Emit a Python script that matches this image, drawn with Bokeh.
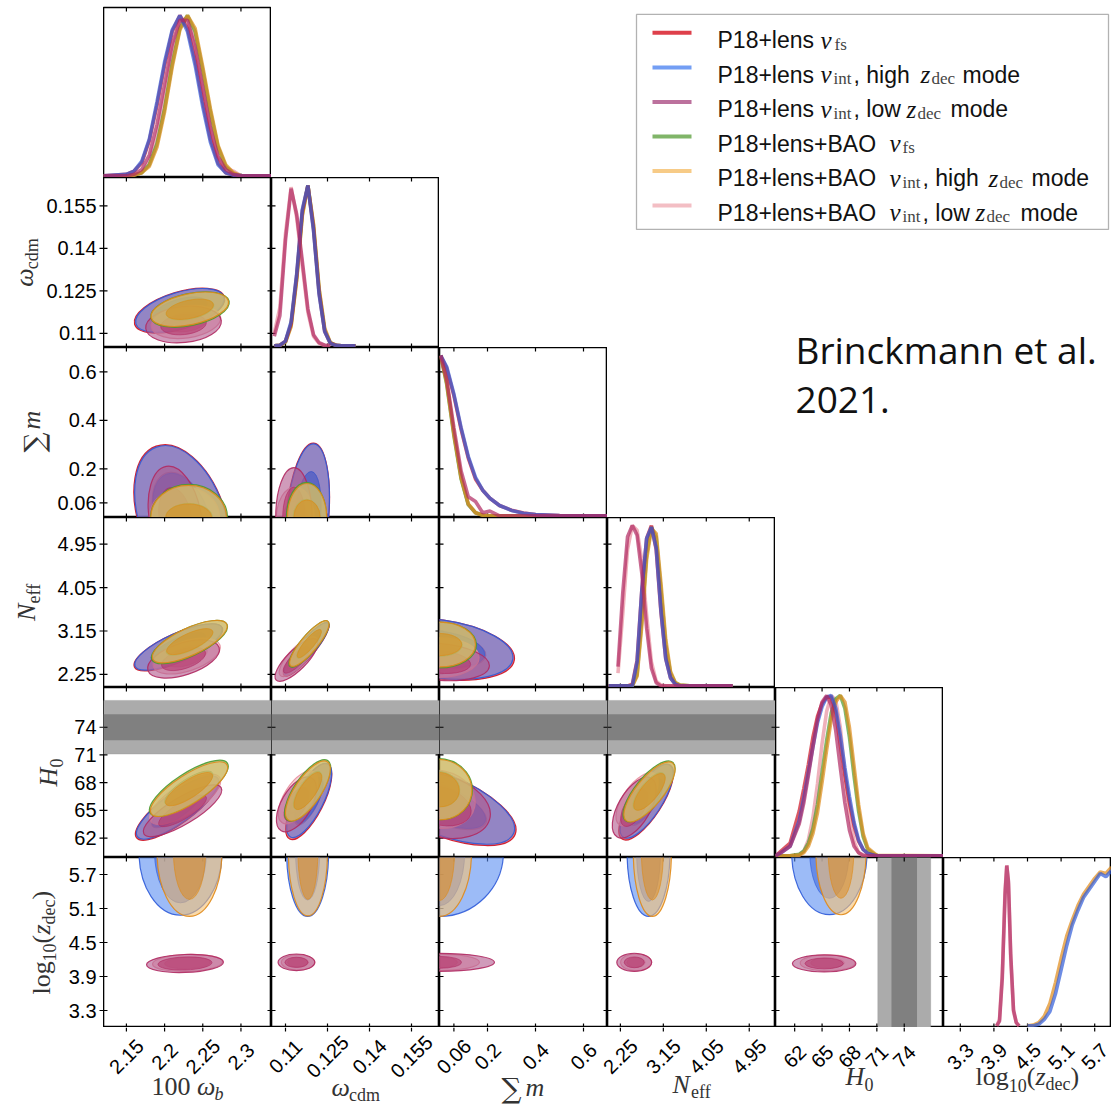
import numpy as np
from bokeh.plotting import figure
from bokeh.models import Range1d, BoxAnnotation, Label, GridBox
from bokeh.core.properties import value
from bokeh.embed import file_html
from bokeh.resources import INLINE

# ----------------------------------------------------------------- data
SERIES = ["P18+lens \u03bdfs", "P18+lens \u03bdint, high zdec mode", "P18+lens \u03bdint, low zdec mode",
          "P18+lens+BAO \u03bdfs", "P18+lens+BAO \u03bdint, high zdec mode", "P18+lens+BAO \u03bdint, low zdec mode"]
COLORS = ["#d81e2c", "#5a8df2", "#b0588c", "#6aa84f", "#f6c272", "#f1b3ba"]
LINE_COLORS = ["#cc1122", "#2f5bd8", "#b02a62", "#4c9a30", "#e08a18", "#e8909e"]

PARAMS = ["wb", "wcdm", "sm", "neff", "h0", "z"]
RANGES = {"wb": (2.12, 2.34), "wcdm": (0.105, 0.165), "sm": (0.0, 0.70),
          "neff": (1.98, 5.50), "h0": (59.9, 78.3), "z": (3.0, 6.0)}
TICKS = {"wb": [2.15, 2.2, 2.25, 2.3], "wcdm": [0.11, 0.125, 0.14, 0.155],
         "sm": [0.06, 0.2, 0.4, 0.6], "neff": [2.25, 3.15, 4.05, 4.95],
         "h0": [62, 65, 68, 71, 74], "z": [3.3, 3.9, 4.5, 5.1, 5.7]}

# SH0ES H0 bands (1 sigma, 2 sigma)
H0_1SIG = [72.6, 75.4]
H0_2SIG = [71.1, 76.9]

# 1D marginalised posteriors (normalised to peak), one row per series
wb_grid = [2.12, 2.15, 2.16, 2.17, 2.18, 2.19, 2.20, 2.21, 2.22, 2.23, 2.24, 2.25, 2.26, 2.27, 2.28, 2.29, 2.30, 2.34]
wb_pdf = [
    [0, 0.01, 0.03, 0.08, 0.22, 0.44, 0.69, 0.90, 1.00, 0.92, 0.72, 0.46, 0.23, 0.08, 0.02, 0.005, 0, 0],
    [0, 0.01, 0.03, 0.09, 0.23, 0.46, 0.71, 0.91, 1.00, 0.90, 0.69, 0.43, 0.21, 0.07, 0.02, 0.005, 0, 0],
    [0, 0, 0.01, 0.04, 0.13, 0.32, 0.57, 0.82, 0.97, 0.97, 0.80, 0.55, 0.30, 0.12, 0.04, 0.01, 0, 0],
    [0, 0, 0.005, 0.02, 0.07, 0.20, 0.42, 0.70, 0.92, 1.00, 0.90, 0.66, 0.40, 0.18, 0.06, 0.015, 0, 0],
    [0, 0, 0.005, 0.02, 0.06, 0.18, 0.40, 0.68, 0.91, 1.00, 0.92, 0.68, 0.42, 0.19, 0.07, 0.02, 0, 0],
    [0, 0, 0.005, 0.02, 0.09, 0.25, 0.50, 0.78, 0.96, 0.99, 0.84, 0.58, 0.31, 0.12, 0.05, 0.03, 0, 0],
]
wcdm_grid = [0.106, 0.108, 0.110, 0.112, 0.114, 0.116, 0.118, 0.120, 0.122, 0.124, 0.126, 0.128, 0.130, 0.135]
wcdm_pdf = [
    [0, 0.004, 0.03, 0.14, 0.44, 0.84, 1.00, 0.73, 0.33, 0.09, 0.017, 0.003, 0, 0],
    [0, 0.004, 0.03, 0.15, 0.45, 0.85, 1.00, 0.72, 0.32, 0.09, 0.016, 0.003, 0, 0],
    [0.06, 0.19, 0.66, 0.98, 0.82, 0.53, 0.23, 0.07, 0.02, 0.004, 0, None, None, None],
    [0, 0.003, 0.025, 0.13, 0.42, 0.82, 1.00, 0.75, 0.35, 0.10, 0.02, 0.004, 0, 0],
    [0, 0.003, 0.024, 0.12, 0.41, 0.81, 1.00, 0.76, 0.36, 0.11, 0.02, 0.004, 0, 0],
    [0.08, 0.24, 0.70, 0.99, 0.80, 0.50, 0.21, 0.06, 0.015, 0.003, 0, None, None, None],
]
sm_grid = [0.005, 0.03, 0.06, 0.09, 0.12, 0.15, 0.18, 0.21, 0.25, 0.30, 0.35, 0.40, 0.50, 0.70]
sm_pdf = [
    [1.0, 0.92, 0.75, 0.54, 0.36, 0.23, 0.16, 0.11, 0.065, 0.035, 0.018, 0.008, 0.002, 0],
    [1.0, 0.93, 0.76, 0.55, 0.37, 0.24, 0.16, 0.11, 0.065, 0.034, 0.017, 0.008, 0.002, 0],
    [1.0, 0.85, 0.55, 0.28, 0.12, 0.09, 0.02, 0.03, 0.0, 0, 0, 0, 0, 0],
    [1.0, 0.82, 0.50, 0.23, 0.07, 0.02, 0.004, 0, 0, 0, 0, 0, 0, 0],
    [1.0, 0.83, 0.51, 0.24, 0.075, 0.02, 0.004, 0, 0, 0, 0, 0, 0, 0],
    [1.0, 0.84, 0.52, 0.24, 0.07, 0.02, 0.005, 0, 0, 0, 0, 0, 0, 0],
]
neff_grid = [2.0, 2.15, 2.2, 2.3, 2.4, 2.5, 2.6, 2.7, 2.8, 2.9, 3.0, 3.1, 3.2, 3.3, 3.4, 3.5, 3.7, 4.6]
neff_pdf = [
    [0, 0, 0, 0, 0, 0.01, 0.16, 0.60, 0.92, 1.00, 0.85, 0.46, 0.17, 0.05, 0.01, 0, 0, 0],
    [0, 0, 0, 0, 0, 0.0, 0.15, 0.60, 0.92, 0.99, 0.86, 0.47, 0.17, 0.05, 0.01, 0, 0, 0],
    [None, None, 0.12, 0.58, 0.93, 1.00, 0.94, 0.70, 0.36, 0.11, 0.02, 0.0, 0, 0, 0, 0, 0, 0],
    [0, 0, 0, 0, 0, 0.0, 0.07, 0.42, 0.82, 0.99, 0.93, 0.60, 0.26, 0.08, 0.02, 0.005, 0, 0],
    [0, 0, 0, 0, 0, 0.0, 0.06, 0.38, 0.79, 0.98, 0.95, 0.64, 0.29, 0.09, 0.02, 0.005, 0, 0],
    [None, None, 0.08, 0.45, 0.85, 1.00, 0.97, 0.78, 0.44, 0.15, 0.03, 0.005, 0, 0, 0, 0, 0, 0],
]
h0_grid = [59.9, 60.5, 61.5, 62.5, 63.0, 63.5, 64.0, 64.5, 65.0, 65.5, 66.0, 66.5, 67.0, 67.5, 68.0, 68.5, 69.0, 69.5, 70.0, 71.0, 78.3]
h0_pdf = [
    [0, 0.03, 0.08, 0.28, 0.42, 0.57, 0.74, 0.87, 0.95, 0.99, 0.99, 0.89, 0.69, 0.50, 0.33, 0.19, 0.09, 0.04, 0.015, 0, 0],
    [0, 0.02, 0.06, 0.22, 0.36, 0.52, 0.68, 0.83, 0.93, 0.99, 1.00, 0.92, 0.75, 0.55, 0.37, 0.21, 0.10, 0.04, 0.015, 0, 0],
    [0, 0.02, 0.06, 0.20, 0.33, 0.50, 0.68, 0.85, 0.96, 1.00, 0.94, 0.78, 0.55, 0.33, 0.16, 0.06, 0.02, 0.005, 0, 0, 0],
    [0, 0, 0, 0.01, 0.03, 0.08, 0.17, 0.32, 0.52, 0.72, 0.89, 0.98, 1.00, 0.92, 0.74, 0.50, 0.28, 0.12, 0.04, 0, 0],
    [0, 0, 0, 0.005, 0.02, 0.06, 0.14, 0.27, 0.46, 0.66, 0.85, 0.96, 1.00, 0.96, 0.80, 0.56, 0.32, 0.14, 0.05, 0.003, 0],
    [0, 0, 0, 0.005, 0.03, 0.10, 0.24, 0.45, 0.70, 0.90, 1.00, 0.97, 0.80, 0.52, 0.26, 0.09, 0.02, 0, 0, 0, 0],
]
z_grid = [3.0, 3.9, 3.95, 4.0, 4.05, 4.1, 4.13, 4.16, 4.2, 4.25, 4.3, 4.35, 4.5, 4.6,
          4.7, 4.8, 4.9, 5.0, 5.1, 5.2, 5.3, 5.4, 5.5, 5.6, 5.7, 5.8, 5.9, 6.0]
z_pdf = [
    None,
    [None, None, None, None, None, None, None, None, None, None, None, None, 0, 0,
     0.01, 0.04, 0.09, 0.20, 0.35, 0.50, 0.63, 0.72, 0.80, 0.85, 0.90, 0.95, 0.93, 0.97],
    [None, None, 0, 0.03, 0.30, 0.82, 1.00, 0.90, 0.45, 0.10, 0.02, 0, None, None,
     None, None, None, None, None, None, None, None, None, None, None, None, None, None],
    None,
    [None, None, None, None, None, None, None, None, None, None, None, None, 0, 0.005,
     0.02, 0.06, 0.14, 0.27, 0.42, 0.56, 0.66, 0.75, 0.82, 0.87, 0.92, 0.96, 0.95, 0.99],
    [None, None, 0, 0.04, 0.33, 0.85, 1.00, 0.88, 0.42, 0.09, 0.02, 0, None, None,
     None, None, None, None, None, None, None, None, None, None, None, None, None, None],
]

# 2D contours (95% and 68%), each row:
# (series, centre_x, centre_y, width95, height95, width68, height68, tilt_deg)
wcdm_vs_wb = [
    (0, 2.2195, 0.1180, 0.1230, 0.0131, 0.076, 0.0081, 17),
    (1, 2.2200, 0.1181, 0.1205, 0.0127, 0.073, 0.0078, 17),
    (2, 2.2248, 0.1131, 0.0995, 0.0127, 0.060, 0.0071, 6),
    (3, 2.2333, 0.1184, 0.1048, 0.0113, 0.064, 0.0067, 12),
    (4, 2.2330, 0.1185, 0.1035, 0.0109, 0.063, 0.0064, 12),
    (5, 2.2280, 0.1140, 0.0917, 0.0113, 0.055, 0.0067, 8),
]
sm_vs_wb = [
    (0, 2.2228, 0.0, 0.1130, 0.625, 0.070, 0.39, 20),
    (1, 2.2230, 0.0, 0.1113, 0.617, 0.069, 0.38, 20),
    (2, 2.2140, 0.0, 0.0680, 0.428, 0.042, 0.25, 10),
    (3, 2.2320, 0.0, 0.1008, 0.272, 0.0615, 0.116, 0),
    (4, 2.2315, 0.0, 0.0990, 0.265, 0.060, 0.112, 0),
    (5, 2.2260, 0.0, 0.0920, 0.250, 0.055, 0.130, 0),
]
neff_vs_wb = [
    (0, 2.2180, 2.81, 0.1260, 0.59, 0.078, 0.37, 24),
    (1, 2.2182, 2.82, 0.1244, 0.577, 0.077, 0.36, 24),
    (2, 2.2248, 2.57, 0.0980, 0.66, 0.060, 0.40, 18),
    (3, 2.2326, 2.92, 0.1087, 0.577, 0.067, 0.35, 25),
    (4, 2.2330, 2.93, 0.1070, 0.56, 0.066, 0.34, 25),
    (5, 2.2290, 2.63, 0.0917, 0.62, 0.056, 0.38, 18),
]
h0_vs_wb = [
    (0, 2.2165, 65.25, 0.1320, 3.35, 0.081, 2.07, 36),
    (1, 2.2169, 65.30, 0.1297, 3.24, 0.080, 2.00, 36),
    (2, 2.2235, 64.95, 0.1180, 2.90, 0.072, 1.80, 31),
    (3, 2.2317, 67.40, 0.1205, 3.24, 0.074, 2.00, 33),
    (4, 2.2320, 67.30, 0.1180, 3.10, 0.072, 1.90, 33),
    (5, 2.2270, 66.20, 0.1070, 3.24, 0.065, 2.00, 32),
]
z_vs_wb = [
    (1, 2.2208, 6.10, 0.1087, 2.24, 0.068, 1.80, 0),
    (2, 2.2267, 4.13, 0.1008, 0.317, 0.0707, 0.23, 2),
    (4, 2.2326, 6.10, 0.0851, 2.28, 0.042, 1.68, 0),
    (5, 2.2300, 4.14, 0.0917, 0.30, 0.060, 0.20, 2),
]
sm_vs_wcdm = [
    (0, 0.11780, 0.0, 0.0152, 0.615, 0.0094, 0.38, -5),
    (1, 0.11786, 0.0, 0.0150, 0.609, 0.0093, 0.38, -5),
    (2, 0.11300, 0.0, 0.0130, 0.410, 0.0080, 0.25, 0),
    (3, 0.11750, 0.0, 0.0143, 0.290, 0.0096, 0.15, 0),
    (4, 0.11770, 0.0, 0.0140, 0.280, 0.0094, 0.145, 0),
    (5, 0.11350, 0.0, 0.0135, 0.250, 0.0085, 0.14, 0),
]
neff_vs_wcdm = [
    (0, 0.1174, 2.77, 0.0245, 0.34, 0.0152, 0.21, 50),
    (1, 0.1175, 2.78, 0.0239, 0.33, 0.0148, 0.20, 50),
    (2, 0.1139, 2.55, 0.0204, 0.41, 0.0126, 0.25, 45),
    (3, 0.1184, 2.88, 0.0211, 0.35, 0.0130, 0.21, 50),
    (4, 0.1185, 2.89, 0.0207, 0.34, 0.0128, 0.20, 50),
    (5, 0.1145, 2.62, 0.0186, 0.37, 0.0115, 0.22, 47),
]
h0_vs_wcdm = [
    (0, 0.11830, 65.95, 0.0300, 3.15, 0.0186, 1.95, 63),
    (1, 0.11846, 66.08, 0.0293, 3.03, 0.0182, 1.90, 63),
    (2, 0.11390, 65.65, 0.0218, 3.24, 0.0135, 2.00, 60),
    (3, 0.11790, 67.16, 0.0257, 2.92, 0.0160, 1.80, 56),
    (4, 0.11800, 67.10, 0.0250, 2.85, 0.0155, 1.75, 56),
    (5, 0.11450, 66.40, 0.0214, 3.00, 0.0130, 1.85, 58),
]
z_vs_wcdm = [
    (1, 0.1179, 6.10, 0.0150, 2.28, 0.0086, 1.70, 0),
    (2, 0.1139, 4.15, 0.0131, 0.294, 0.0082, 0.18, 0),
    (4, 0.1180, 6.10, 0.0140, 2.26, 0.0071, 1.68, 0),
    (5, 0.1145, 4.15, 0.0120, 0.27, 0.0075, 0.17, 0),
]
neff_vs_sm = [
    (0, 0.0, 2.77, 0.630, 1.22, 0.39, 0.75, -8),
    (1, 0.0, 2.78, 0.617, 1.20, 0.38, 0.74, -8),
    (2, 0.0, 2.51, 0.417, 0.76, 0.26, 0.47, -5),
    (3, 0.0, 2.86, 0.308, 0.95, 0.19, 0.47, 0),
    (4, 0.0, 2.87, 0.300, 0.93, 0.185, 0.46, 0),
    (5, 0.0, 2.60, 0.330, 0.82, 0.20, 0.50, 0),
]
h0_vs_sm = [
    (0, 0.0, 65.70, 0.680, 6.60, 0.42, 4.1, -22),
    (1, 0.0, 65.76, 0.667, 6.49, 0.41, 4.0, -22),
    (2, 0.0, 65.50, 0.433, 6.70, 0.27, 4.1, -15),
    (3, 0.0, 67.30, 0.275, 6.60, 0.17, 3.8, -10),
    (4, 0.0, 67.25, 0.270, 6.50, 0.165, 3.7, -10),
    (5, 0.0, 66.20, 0.300, 6.20, 0.18, 3.7, -12),
]
z_vs_sm = [
    (1, 0.0, 6.10, 0.533, 2.28, 0.21, 1.90, 0),
    (2, 0.0, 4.15, 0.458, 0.317, 0.183, 0.21, 0),
    (4, 0.0, 6.10, 0.267, 2.28, 0.125, 1.72, 0),
    (5, 0.0, 4.15, 0.333, 0.29, 0.15, 0.19, 0),
]
h0_vs_neff = [
    (0, 2.79, 65.90, 1.850, 3.35, 1.14, 2.07, 57),
    (1, 2.80, 65.98, 1.795, 3.24, 1.10, 2.00, 57),
    (2, 2.54, 65.30, 1.425, 3.46, 0.88, 2.15, 60),
    (3, 2.85, 67.06, 1.572, 3.03, 0.97, 1.90, 51),
    (4, 2.86, 67.00, 1.550, 2.95, 0.95, 1.85, 51),
    (5, 2.60, 66.20, 1.300, 3.00, 0.80, 1.85, 55),
]
z_vs_neff = [
    (1, 2.84, 6.10, 0.90, 2.28, 0.50, 1.75, 0),
    (2, 2.54, 4.15, 0.73, 0.32, 0.42, 0.19, 0),
    (4, 2.92, 6.10, 0.80, 2.28, 0.46, 1.70, 0),
    (5, 2.58, 4.15, 0.65, 0.30, 0.38, 0.18, 0),
]
z_vs_h0 = [
    (1, 65.80, 6.10, 8.27, 2.22, 4.3, 1.64, 0),
    (2, 65.23, 4.13, 6.95, 0.30, 4.2, 0.19, 0),
    (4, 67.07, 6.10, 5.50, 2.22, 2.8, 1.64, 0),
    (5, 65.60, 4.14, 6.00, 0.28, 3.7, 0.18, 0),
]

GRIDS = {"wb": wb_grid, "wcdm": wcdm_grid, "sm": sm_grid, "neff": neff_grid, "h0": h0_grid, "z": z_grid}
PDFS = {"wb": wb_pdf, "wcdm": wcdm_pdf, "sm": sm_pdf, "neff": neff_pdf, "h0": h0_pdf, "z": z_pdf}
CONTOURS = {
    (1, 0): wcdm_vs_wb, (2, 0): sm_vs_wb, (3, 0): neff_vs_wb, (4, 0): h0_vs_wb, (5, 0): z_vs_wb,
    (2, 1): sm_vs_wcdm, (3, 1): neff_vs_wcdm, (4, 1): h0_vs_wcdm, (5, 1): z_vs_wcdm,
    (3, 2): neff_vs_sm, (4, 2): h0_vs_sm, (5, 2): z_vs_sm,
    (4, 3): h0_vs_neff, (5, 3): z_vs_neff,
    (5, 4): z_vs_h0,
}

# ----------------------------------------------------------------- layout / style
FW, FH = 168, 170
LEFT, BOTTOM, TOP = 103, 80, 7
TICK_FONT = "Liberation Sans"
SERIF = "Liberation Serif"
TEXT_STYLE = {"rm": (SERIF, 26, "normal"), "it": (SERIF, 26, "italic"),
              "sub": (SERIF, 18, "normal"), "subit": (SERIF, 18, "italic"),
              "big": ("DejaVu Serif", 28, "normal")}
LINE_ORDER = [5, 3, 4, 0, 1, 2]
FILL_ORDER = [0, 1, 5, 2, 3, 4]


def base_fig(width, height, xr, yr, top=0):
    p = figure(width=width, height=height, title=None, x_range=xr, y_range=yr,
               x_axis_type=None, y_axis_type=None, toolbar_location=None,
               output_backend="svg", min_border=0, min_border_top=top)
    return p


def edge_ticks(p, xt, yt, y_name=None, left=True, right=True):
    """short inward tick marks on the frame edges (outer half clipped by the frame)"""
    xr = p.x_range
    kw = dict(marker="dash", size=8, line_color="black", line_width=1.2)
    for yv in (p.y_range.start, p.y_range.end):
        p.scatter(x=xt, y=[yv] * len(xt), angle=90, angle_units="deg", **kw)
    sides = ([xr.start] if left else []) + ([xr.end] if right else [])
    extra = {"y_range_name": y_name} if y_name else {}
    for xv in sides:
        p.scatter(x=[xv] * len(yt), y=yt, angle=0, **extra, **kw)


figs = {}
for r in range(6):
    for c in range(r + 1):
        xp, yp = PARAMS[c], PARAMS[r]
        diag = r == c
        p = base_fig(FW, FH + (TOP if r == 0 else 0), Range1d(*RANGES[xp]),
                     Range1d(-0.01, 1.05) if diag else Range1d(*RANGES[yp]),
                     top=TOP if r == 0 else 0)
        p.outline_line_color = "black"
        p.outline_line_width = 1.6
        if diag:
            if r > 0:
                p.extra_y_ranges = {"p": Range1d(*RANGES[yp])}
                edge_ticks(p, TICKS[xp], TICKS[yp], y_name="p", right=False)
            else:
                edge_ticks(p, TICKS[xp], [], left=False, right=False)
        else:
            edge_ticks(p, TICKS[xp], TICKS[yp])
        figs[(r, c)] = p

# H0 bands
for c in range(4):
    p = figs[(4, c)]
    p.add_layout(BoxAnnotation(bottom=H0_2SIG[0], top=H0_2SIG[1], fill_color="#ababab", fill_alpha=1.0,
                               line_color="#8c8c8c", line_width=1, level="underlay"))
    p.add_layout(BoxAnnotation(bottom=H0_1SIG[0], top=H0_1SIG[1], fill_color="#808080", fill_alpha=1.0,
                               line_color=None, level="underlay"))
p = figs[(5, 4)]
p.add_layout(BoxAnnotation(left=H0_2SIG[0], right=H0_2SIG[1], fill_color="#ababab", fill_alpha=1.0,
                           line_color="#8c8c8c", line_width=1, level="underlay"))
p.add_layout(BoxAnnotation(left=H0_1SIG[0], right=H0_1SIG[1], fill_color="#808080", fill_alpha=1.0,
                           line_color=None, level="underlay"))

# 1D posteriors
for r, par in enumerate(PARAMS):
    p = figs[(r, r)]
    xs = np.array(GRIDS[par], dtype=float)
    for s in LINE_ORDER:
        ys = PDFS[par][s]
        if ys is None:
            continue
        p.line(xs, np.array(ys, dtype=float), line_color=LINE_COLORS[s], line_width=3.6, line_alpha=0.7)

# 2D contours: light 95% region, full-colour 68% region
for (r, c), rows in CONTOURS.items():
    p = figs[(r, c)]
    by_series = {row[0]: row for row in rows}
    for s in FILL_ORDER:
        if s not in by_series:
            continue
        _, cx, cy, wo, ho, wi, hi, ang = by_series[s]
        p.ellipse(x=[cx], y=[cy], width=[wo], height=[ho], angle=[ang], angle_units="deg",
                  fill_color=COLORS[s], fill_alpha=0.6, line_color=LINE_COLORS[s], line_alpha=0.9,
                  line_width=1.2)
        p.ellipse(x=[cx], y=[cy], width=[wi], height=[hi], angle=[ang], angle_units="deg",
                  fill_color=LINE_COLORS[s], fill_alpha=0.5, line_color=LINE_COLORS[s], line_alpha=0.6,
                  line_width=1.0)

# ----------------------------------------------------------------- left label strip (rows 1-5)
LS_H = 5 * FH
ls = base_fig(LEFT, LS_H, Range1d(0, LEFT), Range1d(0, LS_H))
ls.outline_line_color = None
yr_extra = {}
for r in range(1, 6):
    lo, hi = RANGES[PARAMS[r]]
    span = hi - lo
    yr_extra[f"r{r}"] = Range1d(lo - (5 - r) * span, hi + (r - 1) * span)
ls.extra_y_ranges = yr_extra
for r in range(1, 6):
    t = TICKS[PARAMS[r]]
    ls.text(x=[LEFT - 7] * len(t), y=t, text=[format(v, "g") for v in t], y_range_name=f"r{r}",
            text_align="right", text_baseline="middle", text_font=value(TICK_FONT),
            text_font_size=value("20px"), text_color="black")
    ls.segment(x0=[LEFT - 4] * len(t), y0=t, x1=[LEFT] * len(t), y1=t, y_range_name=f"r{r}",
               line_color="black", line_width=1.2)

# (baseline offset from frame edge, start offset, text, style)
YLAB = {
    1: [(-70, 60.8, "\u03c9", "it"), (-65, 78.2, "cdm", "sub")],
    2: [(-59, 65, "\u2211", "big"), (-63, 88, "m", "it")],
    3: [(-68, 66.4, "N", "it"), (-63, 84, "eff", "sub")],
    4: [(-46, 71, "H", "it"), (-41, 90, "0", "sub")],
    5: [(-53, 33, "log", "rm"), (-48, 66, "10", "sub"), (-53, 84, "(", "rm"),
        (-53, 93, "z", "it"), (-48, 103, "dec", "sub"), (-53, 128, ")", "rm")],
}
for r, segs in YLAB.items():
    for dx, dy, txt, kind in segs:
        font, size, style = TEXT_STYLE[kind]
        ls.text(x=[LEFT + dx - 0.35 * size], y=[(5 - r) * FH + dy], text=[txt], angle=90,
                angle_units="deg", text_align="left", text_baseline="middle", text_font=value(font),
                text_font_size=value(f"{size}px"), text_font_style=style, text_color="#333333")

# ----------------------------------------------------------------- bottom label strip (cols 0-5)
bs = base_fig(6 * FW, BOTTOM, Range1d(0, 6 * FW), Range1d(BOTTOM, 0))
bs.outline_line_color = None
xr_extra = {}
for c in range(6):
    lo, hi = RANGES[PARAMS[c]]
    span = hi - lo
    xr_extra[f"c{c}"] = Range1d(lo - c * span, hi + (5 - c) * span)
bs.extra_x_ranges = xr_extra
for c in range(6):
    t = TICKS[PARAMS[c]]
    bs.text(x=t, y=[29] * len(t), text=[format(v, "g") for v in t], x_range_name=f"c{c}",
            angle=45, angle_units="deg", text_align="center", text_baseline="middle",
            text_font=value(TICK_FONT), text_font_size=value("20px"), text_color="black")
    bs.segment(x0=t, y0=[0] * len(t), x1=t, y1=[4] * len(t), x_range_name=f"c{c}",
               line_color="black", line_width=1.2)

XLAB = {
    0: [(48, -68, "100", "rm"), (93.5, -68, "\u03c9", "it"), (111, -73, "b", "subit")],
    1: [(60, -69, "\u03c9", "it"), (77.4, -74, "cdm", "sub")],
    2: [(62, -71, "\u2211", "big"), (86, -69, "m", "it")],
    3: [(65, -66, "N", "it"), (83.5, -71, "eff", "sub")],
    4: [(70, -58, "H", "it"), (89, -63, "0", "sub")],
    5: [(32, -58, "log", "rm"), (65.2, -64, "10", "sub"), (83.2, -58, "(", "rm"),
        (91.9, -58, "z", "it"), (102, -63, "dec", "sub"), (127, -58, ")", "rm")],
}
for c, segs in XLAB.items():
    for dx, dy, txt, kind in segs:
        font, size, style = TEXT_STYLE[kind]
        bs.text(x=[c * FW + dx], y=[-dy - 0.35 * size], text=[txt], text_align="left",
                text_baseline="middle", text_font=value(font), text_font_size=value(f"{size}px"),
                text_font_style=style, text_color="#333333")

# ----------------------------------------------------------------- legend / note panel
OX0 = LEFT + 3 * FW
ov = base_fig(3 * FW, TOP + 3 * FH, Range1d(OX0, OX0 + 3 * FW), Range1d(TOP + 3 * FH, 0))
ov.outline_line_color = None
ov.add_layout(BoxAnnotation(left=636, right=1108, top=7, bottom=225, fill_color=None,
                            line_color="black", line_width=1.3))
leg_y = [25.7 + 35 * i for i in range(6)]
ov.segment(x0=[652] * 6, y0=leg_y, x1=[691] * 6, y1=leg_y, line_color=COLORS, line_width=4,
           line_alpha=0.85)

LEG_SEGS = [
    [(717, "P18+lens", "sans"), (820, "\u03bd", "it"), (834, "fs", "sub")],
    [(717, "P18+lens", "sans"), (820, "\u03bd", "it"), (833, "int", "sub"), (853, ", high", "sans"),
     (920, "z", "it"), (931, "dec", "sub"), (962, "mode", "sans")],
    [(717, "P18+lens", "sans"), (820, "\u03bd", "it"), (833, "int", "sub"), (853, ", low", "sans"),
     (906, "z", "it"), (917, "dec", "sub"), (950, "mode", "sans")],
    [(717, "P18+lens+BAO", "sans"), (889, "\u03bd", "it"), (902, "fs", "sub")],
    [(717, "P18+lens+BAO", "sans"), (889, "\u03bd", "it"), (902, "int", "sub"), (922, ", high", "sans"),
     (988, "z", "it"), (999, "dec", "sub"), (1031, "mode", "sans")],
    [(717, "P18+lens+BAO", "sans"), (889, "\u03bd", "it"), (902, "int", "sub"), (922, ", low", "sans"),
     (975, "z", "it"), (986, "dec", "sub"), (1020, "mode", "sans")],
]
LEG_STYLE = {"sans": (TICK_FONT, "23px", "normal", 0, "#111111"),
             "it": (SERIF, "25px", "italic", 0, "#111111"),
             "sub": (SERIF, "17px", "normal", 4, "#444444")}
for i, segs in enumerate(LEG_SEGS):
    base = 33.3 + 35 * i
    for x, txt, kind in segs:
        font, size, style, dy, col = LEG_STYLE[kind]
        ov.add_layout(Label(x=x, y=base + dy, text=txt, text_font=font, text_font_size=size,
                            text_font_style=style, text_color=col, text_align="left",
                            text_baseline="alphabetic"))

ov.add_layout(Label(x=795, y=347, text="Brinckmann et al.", text_font="Open Sans",
                    text_font_size="37px", text_color="#111111", text_baseline="alphabetic"))
ov.add_layout(Label(x=795, y=398, text="2021.", text_font="Open Sans",
                    text_font_size="37px", text_color="#111111", text_baseline="alphabetic"))

# ----------------------------------------------------------------- grid
children = [(figs[(r, c)], r, c + 1) for (r, c) in figs]
children.append((ls, 1, 0, 5, 1))
children.append((bs, 6, 1, 1, 6))
children.append((ov, 0, 4, 3, 3))
layout = GridBox(children=children, spacing=0)

open("out.html", "w").write(file_html(layout, INLINE))
